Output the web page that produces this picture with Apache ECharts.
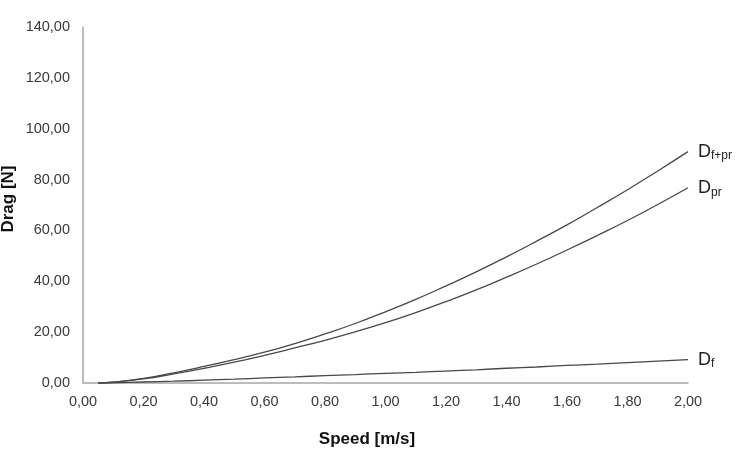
<!DOCTYPE html>
<html>
<head>
<meta charset="utf-8">
<script src="https://cdn.jsdelivr.net/npm/echarts@6/dist/echarts.min.js"></script>
<style>
  html, body { margin: 0; padding: 0; background: #fff; }
  #chart { width: 739px; height: 459px; }
</style>
</head>
<body>
<div id="chart"></div>
<script>
// speed [m/s]
const speed = [0.05, 0.10, 0.20, 0.30, 0.40, 0.50, 0.60, 0.70, 0.80, 0.90, 1.00,
               1.10, 1.20, 1.30, 1.40, 1.50, 1.60, 1.70, 1.80, 1.90, 2.00]
// drag [N]
const dragFPr = [0.0, 0.3, 1.8, 4.0, 6.5, 9.2, 12.1, 15.5, 19.3, 23.4, 28.0,
                 32.9, 38.2, 43.7, 49.6, 55.8, 62.2, 69.0, 76.0, 83.4, 91.0]
const dragPr = [0.0, 0.3, 1.6, 3.6, 5.8, 8.2, 10.9, 13.8, 16.8, 20.1, 23.7,
                27.7, 32.0, 36.6, 41.6, 46.8, 52.3, 58.0, 63.9, 70.2, 76.8]
const dragF = [0.0, 0.1, 0.4, 0.7, 1.1, 1.5, 2.0, 2.4, 2.9, 3.3, 3.8,
               4.2, 4.7, 5.2, 5.8, 6.3, 6.9, 7.4, 8.0, 8.6, 9.2]

const fmt = v => v.toFixed(2).replace('.', ',')
const pairs = ys => speed.map((x, i) => [x, ys[i]])

const lineColor = '#484848'
const font = 'Liberation Sans, Arial, sans-serif'

function curve (name, data, sub) {
    return {
        name: name,
        type: 'line',
        smooth: true,
        showSymbol: false,
        lineStyle: { color: lineColor, width: 1.3 },
        itemStyle: { color: lineColor },
        endLabel: {
            show: true,
            distance: 10,
            formatter: '{d|D}{s|' + sub + '}',
            rich: {
                d: { fontFamily: font, fontSize: 18, color: '#222' },
                s: { fontFamily: font, fontSize: 12, color: '#222', padding: [9, 0, 0, 0] }
            }
        },
        data: pairs(data)
    }
}

const option = {
    animation: false,
    backgroundColor: '#fff',
    grid: { left: 83, right: 51, top: 27, bottom: 76, outerBoundsMode: 'none' },
    xAxis: {
        type: 'value',
        min: 0,
        max: 2,
        interval: 0.2,
        axisLine: { show: true, lineStyle: { color: '#a6a6a6', width: 1.5 } },
        axisTick: { show: false },
        splitLine: { show: false },
        axisLabel: { formatter: fmt, color: '#3a3a3a', fontFamily: font, fontSize: 14.5, margin: 11 }
    },
    yAxis: {
        type: 'value',
        min: 0,
        max: 140,
        interval: 20,
        axisLine: { show: true, lineStyle: { color: '#a6a6a6', width: 1.5 } },
        axisTick: { show: false },
        splitLine: { show: false },
        axisLabel: { formatter: fmt, color: '#3a3a3a', fontFamily: font, fontSize: 14.5, margin: 13 }
    },
    graphic: [
        {
            type: 'text', x: 367, y: 439,
            style: { text: 'Speed [m/s]', fontFamily: font, fontSize: 17, fontWeight: 'bold', fill: '#111', align: 'center', verticalAlign: 'middle' }
        },
        {
            type: 'text', x: 8, y: 199, rotation: Math.PI / 2,
            style: { text: 'Drag [N]', fontFamily: font, fontSize: 17, fontWeight: 'bold', fill: '#111', align: 'center', verticalAlign: 'middle' }
        }
    ],
    series: [
        curve('Df+pr', dragFPr, 'f+pr'),
        curve('Dpr', dragPr, 'pr'),
        curve('Df', dragF, 'f')
    ]
}

const myChart = echarts.init(document.getElementById('chart'))
myChart.setOption(option)
</script>
</body>
</html>
